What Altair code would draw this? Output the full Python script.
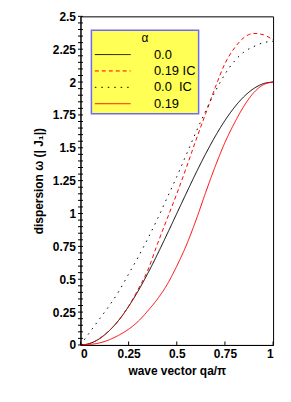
import altair as alt
import pandas as pd

q = [0.0, 0.05, 0.1, 0.15, 0.2, 0.25, 0.3, 0.35, 0.4, 0.45, 0.5,
     0.55, 0.6, 0.65, 0.7, 0.75, 0.8, 0.85, 0.9, 0.95, 1.0]

alpha_00 = [0.0, 0.012, 0.049, 0.109, 0.191, 0.293, 0.412, 0.546, 0.691, 0.844, 1.0,
            1.156, 1.309, 1.454, 1.588, 1.707, 1.809, 1.891, 1.951, 1.988, 2.0]
alpha_019_ic = [0.0, 0.012, 0.05, 0.11, 0.19, 0.295, 0.425, 0.57, 0.77, 0.96, 1.15,
                1.35, 1.56, 1.76, 1.96, 2.14, 2.26, 2.34, 2.37, 2.36, 2.32]
alpha_00_ic = [0.0, 0.1, 0.2, 0.3, 0.41, 0.54, 0.67, 0.81, 0.96, 1.12, 1.28,
               1.45, 1.62, 1.78, 1.93, 2.06, 2.16, 2.23, 2.27, 2.30, 2.31]
alpha_019 = [0.0, 0.004, 0.016, 0.04, 0.075, 0.12, 0.18, 0.26, 0.35, 0.46, 0.60,
             0.76, 0.95, 1.16, 1.36, 1.54, 1.69, 1.82, 1.92, 1.98, 2.0]

series_names = ["0.0", "0.19 IC", "0.0\u00a0\u00a0IC", "0.19"]
series_colors = ["#000000", "#ff0000", "#000000", "#ff0000"]
series_dash = [[1, 0], [4, 3], [1.5, 5], [1, 0]]

y_major = [0, 0.25, 0.5, 0.75, 1, 1.25, 1.5, 1.75, 2, 2.25, 2.5]
y_minor = [round(i * 0.05, 2) for i in range(51)]
x_major = [0, 0.25, 0.5, 0.75, 1]

rows = []
for name, vals in zip(series_names, [alpha_00, alpha_019_ic, alpha_00_ic, alpha_019]):
    for qq, v in zip(q, vals):
        rows.append({"q": qq, "w": v, "series": name})
df = pd.DataFrame(rows)

W, H = 194, 331
FONT = "Liberation Sans"

xscale = alt.Scale(domain=[0, 1], nice=False, zero=False)
yscale = alt.Scale(domain=[0, 2.5], nice=False)
XTITLE = "wave vector qa/π"
YTITLE = "dispersion ω (| J₁|)"
xaxis = alt.Axis(values=x_major, format=".3~g", ticks=False, grid=False,
                 labelOverlap=False, labelPadding=4, titlePadding=6)
yaxis = alt.Axis(values=y_major, format=".3~g", ticks=False, grid=False,
                 labelOverlap=False, labelPadding=5, titlePadding=7)

lines = alt.Chart(df).mark_line(strokeWidth=1, interpolate="monotone").encode(
    x=alt.X("q:Q", scale=xscale, title=XTITLE, axis=xaxis),
    y=alt.Y("w:Q", scale=yscale, title=YTITLE, axis=yaxis),
    color=alt.Color("series:N", sort=series_names,
                    scale=alt.Scale(domain=series_names, range=series_colors),
                    legend=alt.Legend(title="α", orient="none", legendX=11, legendY=14,
                                      fillColor="#ffff55", strokeColor="#6a6aff",
                                      padding=3,
                                      symbolType="M-1,0H5", symbolSize=144,
                                      symbolStrokeWidth=1, labelOffset=47,
                                      titleAnchor="middle", titleFontWeight="normal",
                                      titleFontSize=12, labelFontSize=13,
                                      titleFont=FONT, labelFont=FONT, rowPadding=2.5,
                                      titlePadding=3)),
    strokeDash=alt.StrokeDash("series:N", sort=series_names,
                              scale=alt.Scale(domain=series_names, range=series_dash)),
)

ytick_df = pd.DataFrame({"t": y_minor})
yticks = alt.Chart(ytick_df).mark_rule(color="black", strokeWidth=1).encode(
    y=alt.Y("t:Q", scale=yscale, title=YTITLE, axis=yaxis),
    x=alt.value(-2.5), x2=alt.value(2.5),
)
xtick_df = pd.DataFrame({"t": x_major})
xticks = alt.Chart(xtick_df).mark_rule(color="black", strokeWidth=1).encode(
    x=alt.X("t:Q", scale=xscale, title=XTITLE, axis=xaxis),
    y=alt.value(H), y2=alt.value(H - 3.5),
)

chart = alt.layer(lines, yticks, xticks).properties(
    width=W, height=H,
    autosize=alt.AutoSizeParams(type="none"),
    padding={"left": 73, "top": 7, "right": 10, "bottom": 50},
).configure_view(stroke="black", strokeWidth=1).configure_axis(
    domainColor="black", labelColor="black", titleColor="black",
    labelFont=FONT, titleFont=FONT, labelFontSize=12, titleFontSize=12,
    labelFontWeight="bold", titleFontWeight="bold",
).configure_legend(labelColor="black", titleColor="black", strokeWidth=1.5)

chart.save("out.html", embed_options={"renderer": "svg", "actions": False})
